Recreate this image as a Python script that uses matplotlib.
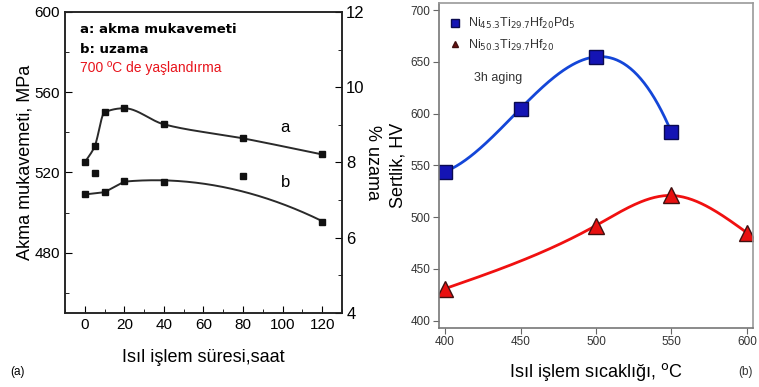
import numpy as np
import matplotlib
matplotlib.use('Agg')
import matplotlib.pyplot as plt
from matplotlib.lines import Line2D

plt.rcParams['font.family'] = ['Liberation Sans', 'DejaVu Sans']
NARROW = ['Liberation Sans Narrow', 'Liberation Sans', 'DejaVu Sans']

# (a) yield strength / elongation vs aging time
time_h = [0, 5, 10, 20, 40, 80, 120]
yield_mpa = [525, 533, 550, 552, 544, 537, 529]
elong_time = [0, 5, 10, 20, 40, 80, 120]
elong_pct = [7.15, 7.71, 7.21, 7.52, 7.47, 7.63, 6.43]

# (b) hardness vs aging temperature
temp_pd = [400, 450, 500, 550]
hv_pd = [544, 605, 655, 582]
temp_ni = [400, 500, 550, 600]
hv_ni = [431, 492, 521, 485]


def pchip(x, y, xs):
    x = np.asarray(x, float)
    y = np.asarray(y, float)
    h = np.diff(x)
    d = np.diff(y) / h
    m = np.zeros_like(y)
    m[0], m[-1] = d[0], d[-1]
    for k in range(1, len(x) - 1):
        if d[k - 1] * d[k] > 0:
            w1 = 2 * h[k] + h[k - 1]
            w2 = h[k] + 2 * h[k - 1]
            m[k] = (w1 + w2) / (w1 / d[k - 1] + w2 / d[k])
    idx = np.clip(np.searchsorted(x, xs) - 1, 0, len(x) - 2)
    t = (xs - x[idx]) / h[idx]
    h00 = 2 * t**3 - 3 * t**2 + 1
    h10 = t**3 - 2 * t**2 + t
    h01 = -2 * t**3 + 3 * t**2
    h11 = t**3 - t**2
    return (h00 * y[idx] + h10 * h[idx] * m[idx] + h01 * y[idx + 1]
            + h11 * h[idx] * m[idx + 1])


def natural_spline(x, y, xs):
    x = np.asarray(x, float)
    y = np.asarray(y, float)
    n = len(x)
    h = np.diff(x)
    A = np.zeros((n, n))
    r = np.zeros(n)
    A[0, 0] = A[-1, -1] = 1
    for i in range(1, n - 1):
        A[i, i - 1] = h[i - 1]
        A[i, i] = 2 * (h[i - 1] + h[i])
        A[i, i + 1] = h[i]
        r[i] = 6 * ((y[i + 1] - y[i]) / h[i] - (y[i] - y[i - 1]) / h[i - 1])
    M = np.linalg.solve(A, r)
    idx = np.clip(np.searchsorted(x, xs) - 1, 0, n - 2)
    a = x[idx + 1] - xs
    b = xs - x[idx]
    hh = h[idx]
    return (M[idx] * a**3 / (6 * hh) + M[idx + 1] * b**3 / (6 * hh)
            + (y[idx] / hh - M[idx] * hh / 6) * a
            + (y[idx + 1] / hh - M[idx + 1] * hh / 6) * b)


fig = plt.figure(figsize=(7.59, 3.87), dpi=100)

# ---------------- panel (a)
ax1 = fig.add_axes([0.0856, 0.1912, 0.365, 0.778])
ax2 = ax1.twinx()

xs = np.linspace(0, 120, 300)
ax1.plot(xs, pchip(time_h, yield_mpa, xs), color='#2a2a2a', lw=1.4)
ax1.plot(time_h, yield_mpa, 's', color='#111111', ms=5)

# elongation: short straight start, then a smooth trend (x=5 sits off it,
# the 80 h point only pulls the trend a little)
fit = np.polyfit(elong_time[3:], elong_pct[3:], 2, w=[1, 1, 0.3, 1])
xs2 = np.linspace(20, 120, 200)
ax2.plot([elong_time[0], elong_time[2], 20],
         [elong_pct[0], elong_pct[2], np.polyval(fit, 20)],
         color='#2a2a2a', lw=1.4)
ax2.plot(xs2, np.polyval(fit, xs2), color='#2a2a2a', lw=1.4)
ax2.plot(elong_time, elong_pct, 's', color='#111111', ms=5)

ax1.set_xlim(-10, 130)
ax1.set_ylim(450, 600)
ax2.set_ylim(4, 12)
ax1.set_xticks(range(0, 121, 20))
ax1.set_xticks(range(-10, 131, 10), minor=True)
ax1.set_yticks([480, 520, 560, 600])
ax1.set_yticks([460, 500, 540, 580], minor=True)
ax2.set_yticks([4, 6, 8, 10, 12])
ax2.set_yticks([5, 7, 9, 11], minor=True)
ax1.tick_params(axis='both', which='major', direction='in', length=5,
                labelsize=11, top=False)
ax1.tick_params(axis='both', which='minor', direction='in', length=3)
ax2.tick_params(axis='y', which='major', direction='in', length=5, labelsize=12,
                pad=3)
ax2.tick_params(axis='y', which='minor', direction='in', length=3)
for lab in ax1.get_xticklabels() + ax1.get_yticklabels() + ax2.get_yticklabels():
    lab.set_family(NARROW)
for sp in list(ax1.spines.values()) + list(ax2.spines.values()):
    sp.set_linewidth(1.1)
    sp.set_color('#222222')

ax1.set_ylabel('Akma mukavemeti, MPa', fontsize=13, labelpad=1)
ax2.set_ylabel('% uzama', fontsize=13, rotation=270, labelpad=12)
ax1.set_xlabel('Isıl işlem süresi,saat', fontsize=13, labelpad=12)

ax1.text(0.055, 0.93, 'a: akma mukavemeti', transform=ax1.transAxes,
         fontsize=9.5, fontweight='bold', family='DejaVu Sans')
ax1.text(0.055, 0.865, 'b: uzama', transform=ax1.transAxes,
         fontsize=9.5, fontweight='bold', family='DejaVu Sans')
ax1.text(0.055, 0.80, '700 ºC de yaşlandırma', transform=ax1.transAxes,
         fontsize=10, color='#e8141c')
ax1.text(99, 540, 'a', fontsize=12, family=NARROW)
ax1.text(99, 513, 'b', fontsize=12, family=NARROW)
fig.text(0.013, 0.03, '(a)', fontsize=8.5, family=NARROW)

# ---------------- panel (b)
ax3 = fig.add_axes([0.5784, 0.1525, 0.4137, 0.8398])
xb = np.linspace(400, 550, 200)
ax3.plot(xb, np.polyval(np.polyfit(temp_pd, hv_pd, 3), xb), color='#1446d8', lw=2)
xr = np.linspace(400, 600, 200)
ax3.plot(xr, natural_spline(temp_ni, hv_ni, xr), color='#f01010', lw=2)
ax3.plot(temp_pd, hv_pd, 's', ms=10.5, mfc='#1414b4', mec='#0a0a50', mew=1)
ax3.plot(temp_ni, hv_ni, '^', ms=11, mfc='#e81010', mec='#401010', mew=1)

ax3.set_xlim(396, 604)
ax3.set_ylim(393, 707)
ax3.set_xticks([400, 450, 500, 550, 600])
ax3.set_yticks([400, 450, 500, 550, 600, 650, 700])
ax3.tick_params(direction='out', length=4, color='#666666', labelsize=8.5,
                labelcolor='#333333', pad=2)
for sp in ax3.spines.values():
    sp.set_color('#9a9a9a')
    sp.set_linewidth(1.2)
ax3.spines['left'].set_color('#777777')
ax3.spines['bottom'].set_color('#777777')

ax3.set_ylabel('Sertlik, HV', fontsize=13, labelpad=3)
ax3.set_xlabel('Isıl işlem sıcaklığı, $^{\\mathrm{o}}$C', fontsize=13, labelpad=9)

handles = [
    Line2D([], [], ls='none', marker='s', ms=6, mfc='#1414b4', mec='#0a0a50'),
    Line2D([], [], ls='none', marker='^', ms=5, mfc='#6a1010', mec='#401010'),
]
labels = [r'Ni$_{45.3}$Ti$_{29.7}$Hf$_{20}$Pd$_{5}$',
          r'Ni$_{50.3}$Ti$_{29.7}$Hf$_{20}$']
leg = ax3.legend(handles, labels, loc='upper left', frameon=False, fontsize=9,
                 handletextpad=0.5, borderaxespad=0.4, labelspacing=0.5,
                 handlelength=1.0, bbox_to_anchor=(0.0, 0.99))
for t in leg.get_texts():
    t.set_color('#333333')
ax3.text(0.11, 0.77, '3h aging', transform=ax3.transAxes, fontsize=9,
         color='#333333', va='center')
fig.text(0.973, 0.03, '(b)', fontsize=8.5, color='#333333', family=NARROW)

fig.savefig('out.png', dpi=100)
